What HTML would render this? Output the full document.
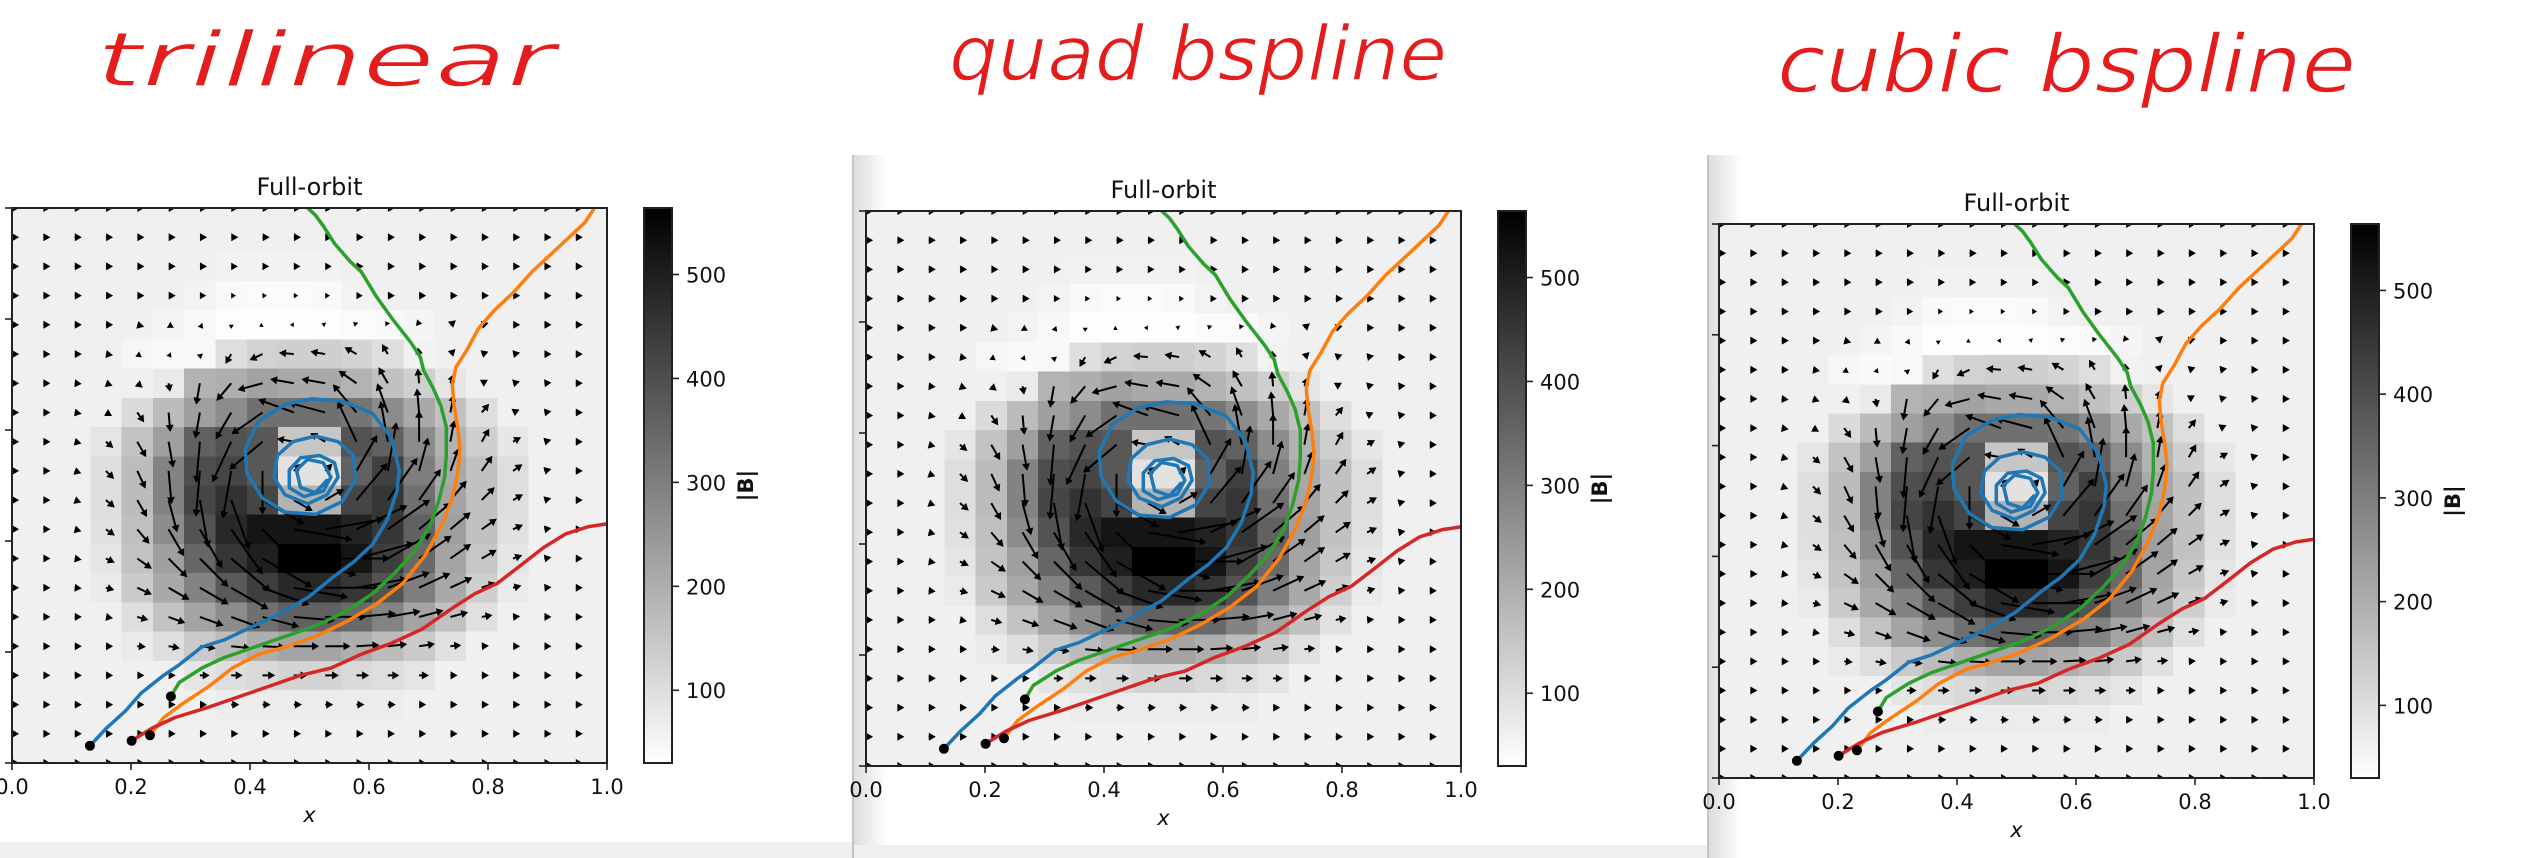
<!DOCTYPE html>
<html>
<head>
<meta charset="utf-8">
<style>
html,body{margin:0;padding:0;background:#fff;}
svg{display:block;}
text{font-family:"DejaVu Sans","Liberation Sans",sans-serif;}
</style>
</head>
<body>
<svg id="root" xmlns="http://www.w3.org/2000/svg" width="2521" height="858" viewBox="0 0 2521 858">
  <defs>
    <linearGradient id="cbgrad" x1="0" y1="1" x2="0" y2="0">
      <stop offset="0" stop-color="#ffffff"/>
      <stop offset="1" stop-color="#000000"/>
    </linearGradient>
    <linearGradient id="shadow" x1="0" y1="0" x2="1" y2="0">
      <stop offset="0" stop-color="#dcdcdc"/>
      <stop offset="1" stop-color="#ffffff"/>
    </linearGradient>
  </defs>
  <rect x="0" y="0" width="2521" height="858" fill="#ffffff"/>
  <rect x="853" y="155" width="34" height="703" fill="url(#shadow)"/>
  <rect x="852" y="155" width="2" height="703" fill="#c4c4c4"/>
  <rect x="1708" y="155" width="34" height="703" fill="url(#shadow)"/>
  <rect x="1707" y="155" width="2" height="703" fill="#c4c4c4"/>
  <rect x="0" y="842" width="852" height="16" fill="#efefef"/>
  <rect x="854" y="845" width="853" height="13" fill="#efefef"/>
  <text x="96" y="86" font-size="76" fill="#e41c1c" stroke="#fff" stroke-width="1.5" textLength="459" lengthAdjust="spacingAndGlyphs" font-style="italic">trilinear</text>
  <text x="949" y="80" font-size="76" fill="#e41c1c" stroke="#fff" stroke-width="1.5" textLength="498" lengthAdjust="spacingAndGlyphs" font-style="italic">quad bspline</text>
  <text x="1777" y="92" font-size="80" fill="#e41c1c" stroke="#fff" stroke-width="1.5" textLength="579" lengthAdjust="spacingAndGlyphs" font-style="italic">cubic bspline</text>
</svg>
<script>
// |B| magnitude at the 20x20 grid nodes (rows top->bottom, cols left->right)
const M = [
[62,62,62,62,62,62,62,62,62,62,62,62,62,62,62,62,62,62,62,62],
[62,62,62,62,62,62,62,62,62,62,62,62,62,62,62,62,62,62,62,62],
[62,62,62,62,62,62,62,58,58,58,58,62,62,62,62,62,62,62,62,62],
[62,62,62,62,62,62,55,42,38,38,42,55,62,62,62,62,62,62,62,62],
[62,62,62,62,62,52,45,35,33,33,35,38,40,50,62,62,62,62,62,62],
[62,62,62,62,48,40,45,100,125,130,130,120,100,58,62,62,62,62,62,62],
[62,62,62,62,62,75,190,200,225,210,210,190,160,130,85,62,62,62,62,62],
[62,62,62,62,105,170,230,270,330,330,330,320,270,210,160,100,62,62,62,62],
[62,62,62,85,155,230,360,390,380,150,150,390,360,270,190,130,80,62,62,62],
[62,62,62,100,170,290,400,420,380,90,90,360,430,300,210,160,100,62,62,62],
[62,62,62,100,170,290,420,460,420,190,190,420,450,330,220,160,100,62,62,62],
[62,62,62,95,165,270,390,480,520,520,520,490,450,360,230,160,95,62,62,62],
[62,62,62,85,155,230,350,450,500,564,564,520,435,345,220,150,85,62,62,62],
[62,62,62,75,140,210,290,375,435,480,480,450,390,300,210,130,75,62,62,62],
[62,62,62,62,100,155,220,270,330,360,360,345,290,220,160,95,62,62,62,62],
[62,62,62,62,75,100,140,170,200,220,220,200,170,140,95,62,62,62,62,62],
[62,62,62,62,62,62,85,100,110,120,120,110,100,85,62,62,62,62,62,62],
[62,62,62,62,62,62,62,70,70,70,70,70,70,62,62,62,62,62,62,62],
[62,62,62,62,62,62,62,62,62,62,62,62,62,62,62,62,62,62,62,62],
[62,62,62,62,62,62,62,62,62,62,62,62,62,62,62,62,62,62,62,62]
];
// field direction at the nodes, degrees (0 = +x, 90 = +y)
const ANG = [
[0,0,0,0,0,0,0,0,0,0,0,0,0,0,0,0,0,0,0,0],
[0,0,0,0,0,0,0,0,0,0,0,0,0,0,0,0,0,0,0,0],
[0,0,0,0,0,0,0,0,0,0,0,0,0,0,0,0,0,0,0,0],
[0,0,0,0,0,0,0,0,0,0,0,0,0,0,0,0,0,0,0,0],
[0,0,0,0,-15,-30,-50,-90,-150,180,160,140,125,110,40,15,0,0,0,0],
[0,0,0,-10,-35,-50,-80,-120,-155,175,170,150,120,100,45,20,10,0,0,0],
[0,0,-5,-20,-40,-80,-100,-130,-165,170,170,145,120,95,70,30,15,5,0,0],
[0,0,-10,-30,-55,-85,-100,-120,-145,160,165,130,110,95,80,50,25,10,0,0],
[0,0,-15,-40,-60,-80,-95,-115,-140,170,150,115,100,90,80,60,30,15,0,0],
[0,0,-20,-45,-65,-85,-95,-100,-90,45,45,60,80,75,70,55,35,15,0,0],
[0,0,-20,-40,-60,-75,-80,-70,-30,-30,30,50,55,55,50,45,30,15,0,0],
[0,0,-15,-35,-50,-60,-60,-55,-45,-10,10,25,35,40,40,35,25,10,0,0],
[0,0,-10,-25,-35,-45,-45,-40,-30,-15,0,15,30,35,35,30,20,10,0,0],
[0,0,-5,-15,-25,-30,-30,-30,-20,-10,0,10,20,25,25,20,15,5,0,0],
[0,0,0,-10,-15,-20,-20,-20,-15,-5,0,5,10,15,15,10,5,0,0,0],
[0,0,0,0,-5,-10,-8,-6,-3,0,0,3,6,8,5,3,0,0,0,0],
[0,0,0,0,0,0,0,0,0,0,0,0,0,0,0,0,0,0,0,0],
[0,0,0,0,0,0,0,0,0,0,0,0,0,0,0,0,0,0,0,0],
[0,0,0,0,0,0,0,0,0,0,0,0,0,0,0,0,0,0,0,0],
[0,0,0,0,0,0,0,0,0,0,0,0,0,0,0,0,0,0,0,0]
];
const blueX = [.131,.159,.191,.217,.255,.281,.319,.357,.395,.446,.497,.542,.574,.606,.631,.647,.651,.638,.606,.555,.504,.459,.415,.392,.395,.421,.459,.510,.555,.577,.574,.548,.510,.472,.446,.440,.459,.497,.529,.548,.542,.517,.485,.466,.466,.491,.523,.536,.523,.497,.478,.485,.510,.529];
const blueY = [.031,.063,.094,.126,.158,.177,.209,.222,.241,.267,.298,.337,.362,.394,.439,.490,.528,.585,.630,.652,.656,.646,.617,.566,.522,.477,.452,.448,.471,.509,.554,.579,.589,.579,.554,.515,.483,.467,.483,.515,.541,.554,.550,.528,.496,.480,.490,.515,.541,.547,.528,.496,.487,.509];
const greenX = [.267,.281,.319,.357,.408,.459,.510,.561,.606,.644,.676,.702,.717,.727,.730,.730,.721,.708,.692,.686,.670,.638,.612,.587,.568,.542,.523,.510,.497];
const greenY = [.120,.145,.171,.190,.209,.228,.247,.273,.305,.343,.381,.426,.471,.515,.554,.605,.643,.675,.707,.732,.758,.802,.841,.885,.904,.936,.968,.987,1.0];
const orangeX = [.232,.255,.287,.332,.370,.415,.459,.510,.561,.612,.657,.695,.721,.740,.749,.753,.749,.743,.740,.746,.765,.784,.810,.842,.874,.906,.938,.963,.979];
const orangeY = [.050,.082,.107,.139,.171,.196,.209,.228,.254,.286,.324,.375,.426,.477,.522,.566,.605,.643,.681,.713,.745,.783,.815,.847,.885,.917,.949,.974,1.0];
const redX = [.201,.236,.274,.332,.383,.434,.485,.536,.587,.638,.689,.740,.778,.816,.855,.893,.931,.969,1.0];
const redY = [.040,.063,.082,.101,.120,.139,.158,.171,.196,.216,.241,.279,.305,.324,.356,.388,.413,.426,.431];
const xTicks = [0, 0.2, 0.4, 0.6, 0.8, 1.0];
const xTickLabels = ["0.0","0.2","0.4","0.6","0.8","1.0"];
const yTicks = [0, 0.2, 0.4, 0.6, 0.8, 1.0];
const cbTicks = [100, 200, 300, 400, 500];
const cbTickLabels = ["100","200","300","400","500"];
const vmin = 30, vmax = 564;

const NS = "http://www.w3.org/2000/svg";
const root = document.getElementById('root');
function mk(tag, attrs, parent) {
  const e = document.createElementNS(NS, tag);
  for (const k in attrs) e.setAttribute(k, attrs[k]);
  (parent || root).appendChild(e);
  return e;
}
const layouts = [
  {L:12, R:607, T:208, B:763, id:'p1'},
  {L:866, R:1461, T:211, B:766, id:'p2'},
  {L:1719, R:2314, T:224, B:778, id:'p3'}
];
const series = [
  {name:'blue', X:blueX, Y:blueY, color:'#1f77b4'},
  {name:'green', X:greenX, Y:greenY, color:'#2ca02c'},
  {name:'orange', X:orangeX, Y:orangeY, color:'#ff7f0e'},
  {name:'red', X:redX, Y:redY, color:'#d62728'}
];
function grayOf(v) {
  let t = (v - vmin) / (vmax - vmin);
  t = Math.max(0, Math.min(1, t));
  const g = Math.round(255 * (1 - t));
  return 'rgb(' + g + ',' + g + ',' + g + ')';
}
layouts.forEach(function(p, pi) {
  const W = p.R - p.L, H = p.B - p.T;
  const sx = function(x) { return p.L + x * W; };
  const sy = function(y) { return p.B - y * H; };
  const g = mk('g', {});
  
  
  const cp = mk('clipPath', {id: 'clip' + p.id}, g);
  mk('rect', {x: p.L, y: p.T, width: W, height: H}, cp);
  const plot = mk('g', {'clip-path': 'url(#clip' + p.id + ')'}, g);
  
  
  const hm = mk('g', {'shape-rendering': 'crispEdges'}, plot);
  
  
  const n = M.length;
  for (let r = 0; r < n; r++) {
    for (let c = 0; c < M[r].length; c++) {
      const x0 = sx((c - 0.5) / (n - 1));
      const y0 = sy(1 - (r - 0.5) / (n - 1));
      const cell = mk('rect', {x: x0.toFixed(1), y: y0.toFixed(1), width: (W / (n - 1) + 0.6).toFixed(1), height: (H / (n - 1) + 0.6).toFixed(1), fill: grayOf(M[r][c])}, hm);
      
      
    }
  }
  const qv = mk('g', {fill: '#000'}, plot);
  
  
  for (let r = 0; r < n; r++) {
    for (let c = 0; c < M[r].length; c++) {
      const x = sx(c / (n - 1)), y = sy(1 - r / (n - 1));
      const len = M[r][c] * 0.115;
      const a = ANG[r][c] * Math.PI / 180;
      const ux = Math.cos(a), uy = -Math.sin(a);
      const vx = -uy, vy = ux;
      const hl = Math.min(7, len);
      const hw = 3.4 * Math.min(1, len / 7) + 0.6;
      const sw = 1.0;
      const pts = [[0,-sw],[len-hl,-sw],[len-hl,-hw],[len,0],[len-hl,hw],[len-hl,sw],[0,sw]].map(function(q) {
        return (x + q[0]*ux + q[1]*vx).toFixed(1) + ',' + (y + q[0]*uy + q[1]*vy).toFixed(1);
      }).join(' ');
      const ar = mk('polygon', {points: pts}, qv);
      
      
    }
  }
  series.forEach(function(s) {
    const pts = s.X.map(function(v, i) { return sx(v).toFixed(1) + ',' + sy(s.Y[i]).toFixed(1); }).join(' ');
    const ln = mk('polyline', {points: pts, fill: 'none', stroke: s.color, 'stroke-width': 3.5, 'stroke-linejoin': 'round', 'stroke-linecap': 'round'}, plot);
    
    
  });
  series.forEach(function(s) {
    const d = mk('circle', {cx: sx(s.X[0]).toFixed(1), cy: sy(s.Y[0]).toFixed(1), r: 5, fill: '#000'}, plot);
    
    
  });
  const sp = mk('rect', {x: p.L, y: p.T, width: W, height: H, fill: 'none', stroke: '#222', 'stroke-width': 2}, g);
  
  
  xTicks.forEach(function(t, i) {
    const tk = mk('line', {x1: sx(t), x2: sx(t), y1: p.B, y2: p.B + 7, stroke: '#222', 'stroke-width': 1.6}, g);
    
    
    const tl = mk('text', {x: sx(t), y: p.B + 31, 'font-size': 21, 'text-anchor': 'middle', fill: '#111'}, g);
    tl.textContent = xTickLabels[i];
    
    
  });
  yTicks.forEach(function(t) {
    const tk = mk('line', {x1: p.L - 7, x2: p.L, y1: sy(t), y2: sy(t), stroke: '#222', 'stroke-width': 1.6}, g);
    
    
  });
  const xl = mk('text', {x: (p.L + p.R) / 2, y: p.B + 59, 'font-size': 21, 'text-anchor': 'middle', 'font-style': 'italic', fill: '#111'}, g);
  xl.textContent = 'x';
  
  
  const tt = mk('text', {x: (p.L + p.R) / 2, y: p.T - 13, 'font-size': 24, 'text-anchor': 'middle', fill: '#111'}, g);
  tt.textContent = 'Full-orbit';
  
  
  const cbL = p.R + 37, cbR = p.R + 65;
  const cbY = function(v) { return p.B - (v - vmin) / (vmax - vmin) * H; };
  const cb = mk('rect', {x: cbL, y: p.T, width: cbR - cbL, height: H, fill: 'url(#cbgrad)', stroke: '#222', 'stroke-width': 2}, g);
  
  
  cbTicks.forEach(function(v, i) {
    const tk = mk('line', {x1: cbR, x2: cbR + 7, y1: cbY(v), y2: cbY(v), stroke: '#222', 'stroke-width': 1.6}, g);
    
    
    const tl = mk('text', {x: cbR + 14, y: cbY(v) + 8, 'font-size': 21, fill: '#111'}, g);
    tl.textContent = cbTickLabels[i];
    
    
  });
  const cx = p.R + 146, cy = (p.T + p.B) / 2;
  const bl = mk('text', {x: cx, y: cy, 'font-size': 21, 'font-weight': 'bold', 'text-anchor': 'middle', fill: '#111', transform: 'rotate(-90 ' + cx + ' ' + cy + ')'}, g);
  bl.textContent = '|B|';
  
  
});
</script>
</body>
</html>
